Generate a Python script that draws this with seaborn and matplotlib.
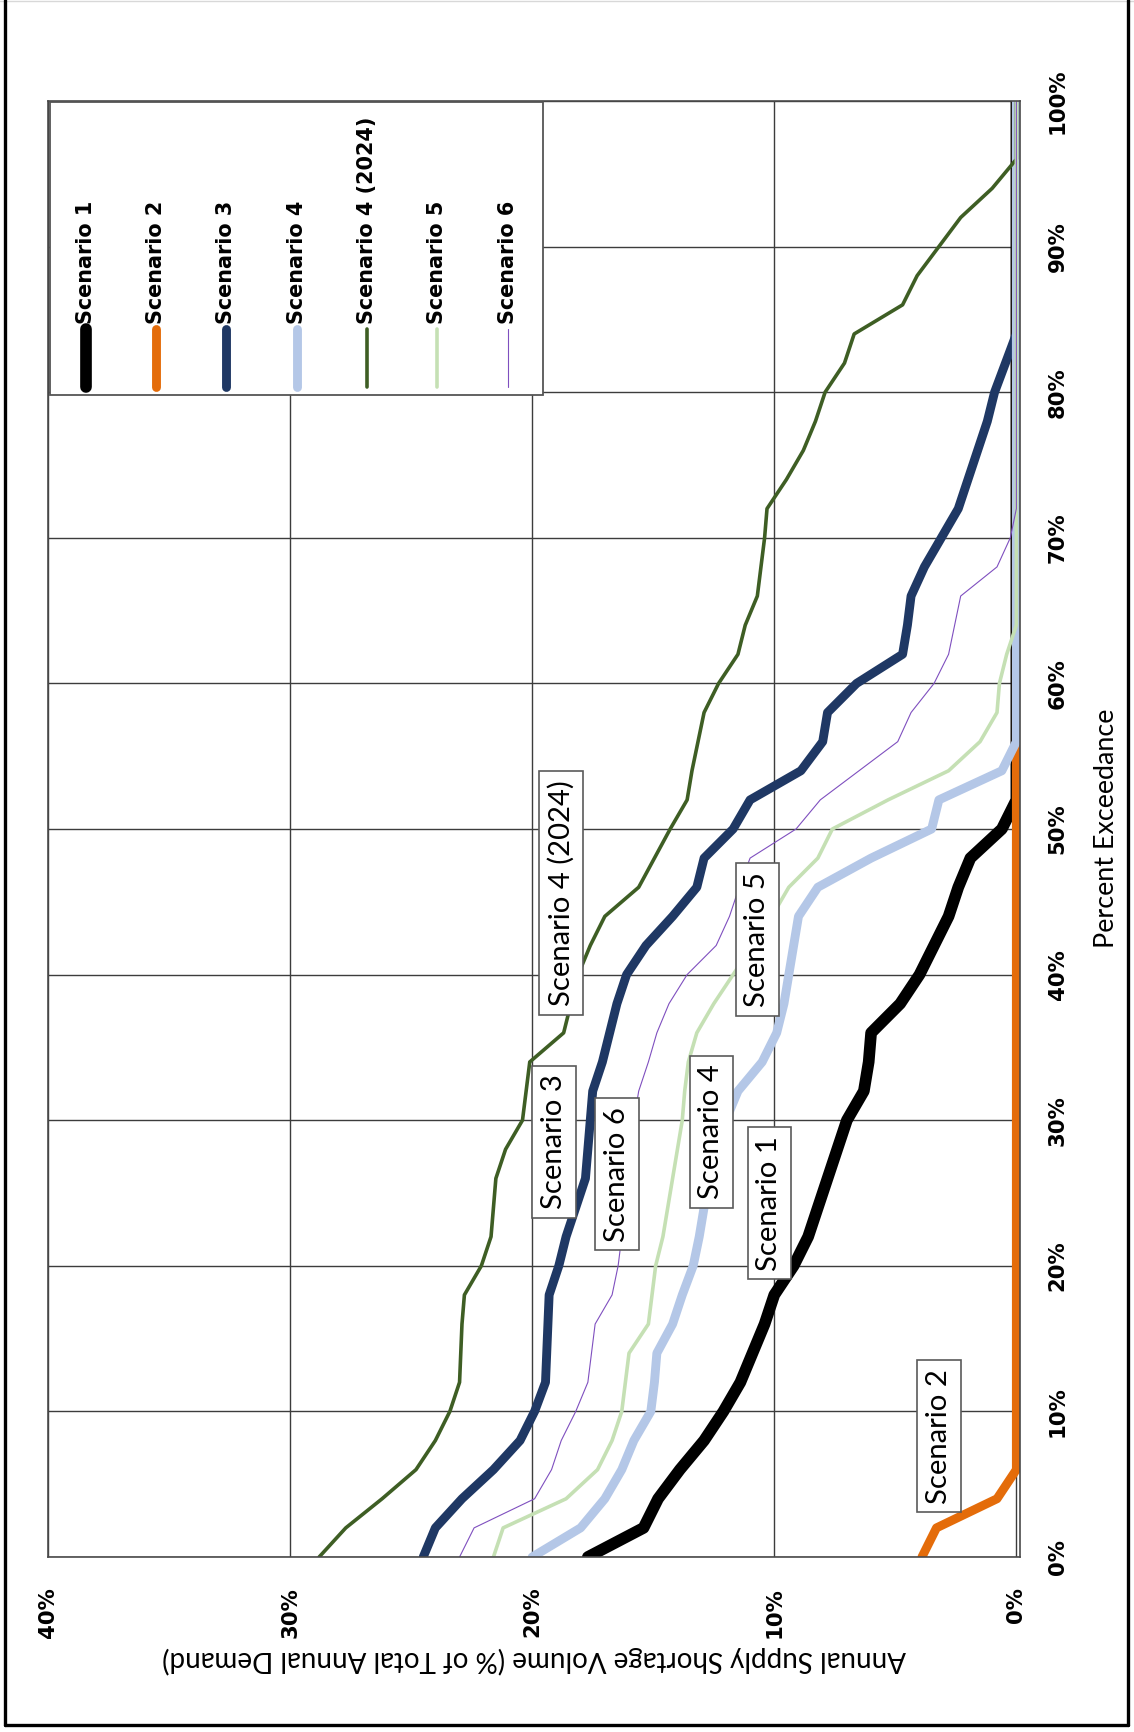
import matplotlib
matplotlib.use("Agg")
import matplotlib.pyplot as plt
import numpy as np
import pandas as pd
import seaborn as sns
from matplotlib.lines import Line2D
from matplotlib.patches import Rectangle

# Percent exceedance (every 2%)
exceedance = list(range(0, 101, 2))

# Annual supply shortage volume, % of total annual demand
scenario_1 = [17.7, 15.4, 14.8, 13.9, 12.9, 12.1, 11.4, 10.9, 10.4, 10.0,
              9.2, 8.6, 8.2, 7.8, 7.4, 7.0, 6.3, 6.1, 6.0, 4.8,
              4.0, 3.4, 2.8, 2.4, 1.9, 0.6] + [0.0] * 25
scenario_2 = [3.9, 3.3, 0.8] + [0.0] * 48
scenario_3 = [24.5, 24.0, 22.9, 21.6, 20.5, 19.9, 19.45, 19.4, 19.35, 19.3,
              18.9, 18.6, 18.2, 17.8, 17.7, 17.6, 17.5, 17.1, 16.8, 16.5,
              16.1, 15.3, 14.2, 13.2, 12.9, 11.7, 11.0, 8.9, 8.0, 7.8,
              6.6, 4.7, 4.5, 4.35, 3.8, 3.1, 2.4, 2.0, 1.6, 1.2,
              0.9, 0.45] + [0.0] * 9
scenario_4 = [20.0, 18.0, 17.0, 16.3, 15.8, 15.1, 14.95, 14.85, 14.2, 13.8,
              13.35, 13.1, 12.9, 12.6, 12.3, 12.0, 11.5, 10.5, 9.9, 9.6,
              9.4, 9.2, 9.0, 8.2, 6.0, 3.5, 3.2, 0.6] + [0.0] * 23
scenario_4_2024 = [28.8, 27.7, 26.2, 24.8, 24.0, 23.4, 23.0, 22.95, 22.9, 22.8,
                   22.1, 21.7, 21.6, 21.5, 21.1, 20.4, 20.25, 20.1, 18.7, 18.4,
                   18.1, 17.6, 17.0, 15.6, 14.95, 14.3, 13.6, 13.4, 13.15, 12.9,
                   12.3, 11.5, 11.2, 10.7, 10.55, 10.4, 10.3, 9.5, 8.8, 8.3,
                   7.9, 7.1, 6.7, 4.7, 4.1, 3.2, 2.3, 1.0, 0.0, 0.0, 0.0]
scenario_5 = [21.6, 21.2, 18.6, 17.3, 16.7, 16.3, 16.15, 16.0, 15.2, 15.05,
              14.9, 14.6, 14.4, 14.2, 14.0, 13.8, 13.7, 13.55, 13.2, 12.5,
              11.7, 10.9, 10.1, 9.4, 8.2, 7.6, 5.3, 2.8, 1.5, 0.8,
              0.7, 0.4] + [0.0] * 19
scenario_6 = [23.0, 22.4, 19.9, 19.2, 18.8, 18.2, 17.7, 17.55, 17.4, 16.7,
              16.45, 16.3, 16.2, 16.0, 15.9, 15.8, 15.6, 15.2, 14.85, 14.35,
              13.6, 12.4, 11.85, 11.45, 11.0, 9.1, 8.1, 6.5, 4.9, 4.35,
              3.4, 2.8, 2.55, 2.3, 0.8, 0.25] + [0.0] * 15

scenario_names = ["Scenario 1", "Scenario 2", "Scenario 3", "Scenario 4",
                  "Scenario 4 (2024)", "Scenario 5", "Scenario 6"]
scenario_values = [scenario_1, scenario_2, scenario_3, scenario_4,
                   scenario_4_2024, scenario_5, scenario_6]

shortage_ticks = [40, 30, 20, 10, 0]
exceedance_ticks = list(range(0, 101, 10))

x_title = "Annual Supply Shortage Volume (% of Total Annual Demand)"
y_title = "Percent Exceedance"

# In-plot callouts: (shortage %, exceedance %)
callouts = {
    "Scenario 4 (2024)": (18.8, 45.6),
    "Scenario 3": (19.1, 28.5),
    "Scenario 6": (16.5, 26.3),
    "Scenario 4": (12.6, 29.2),
    "Scenario 5": (10.7, 42.4),
    "Scenario 1": (10.2, 24.3),
    "Scenario 2": (3.2, 8.3),
}

colors = {
    "Scenario 1": "#000000",
    "Scenario 2": "#E46C0A",
    "Scenario 3": "#1F3864",
    "Scenario 4": "#B4C7E7",
    "Scenario 4 (2024)": "#3E5E24",
    "Scenario 5": "#C5E0B4",
    "Scenario 6": "#7F4FBF",
}
widths = {
    "Scenario 1": 8.4,
    "Scenario 2": 6.4,
    "Scenario 3": 6.4,
    "Scenario 4": 6.4,
    "Scenario 4 (2024)": 2.6,
    "Scenario 5": 2.6,
    "Scenario 6": 0.8,
}

frames = []
for name, vals in zip(scenario_names, scenario_values):
    frames.append(pd.DataFrame({"scenario": name,
                                "exceedance": exceedance,
                                "shortage": vals}))
df = pd.concat(frames, ignore_index=True)

sns.set_theme(style="white")
plt.rcParams["font.family"] = ["DejaVu Sans"]

W, H = 1134, 1732
fig = plt.figure(figsize=(W / 100, H / 100), dpi=100)
fig.patch.set_facecolor("white")


def fx(px):
    return px / W


def fy(py):
    return 1 - py / H


L, R, T, B = 48, 1020, 101, 1557
ax = fig.add_axes([fx(L), fy(B), fx(R) - fx(L), fy(T) - fy(B)])

for name in scenario_names:
    sub = df[df["scenario"] == name]
    sns.lineplot(data=sub, x="shortage", y="exceedance", sort=False,
                 estimator=None, orient="y", color=colors[name],
                 linewidth=widths[name], ax=ax, legend=False)
for line in ax.lines:
    line.set_solid_joinstyle("round")

ax.set_xlim(40, -0.15)
ax.set_ylim(0, 100)

grid_kw = dict(color="#3c3c3c", linewidth=1.0)
ax.set_xticks(shortage_ticks)
ax.set_yticks(exceedance_ticks)
ax.grid(True, axis="both", **grid_kw)
ax.set_axisbelow(True)
for sp in ax.spines.values():
    sp.set_color("#4a4a4a")
    sp.set_linewidth(1.2)

tick_font = dict(fontsize=15.3, fontweight="bold", family="DejaVu Sans")
ax.set_xticklabels([f"{t}%" for t in shortage_ticks], rotation=90,
                   ha="center", va="top", **tick_font)
ax.yaxis.tick_right()
ax.set_yticklabels([f"{t}%" for t in exceedance_ticks], rotation=90,
                   ha="left", va="center", **tick_font)
ax.tick_params(axis="x", length=0, pad=21.5, colors="black")
ax.tick_params(axis="y", length=0, pad=20, colors="black",
               labelright=True, labelleft=False)
ax.set_xlabel("")
ax.set_ylabel("")

renderer = fig.canvas.get_renderer()


def fit(txt, target, vertical):
    bb = txt.get_window_extent(renderer)
    cur = bb.height if vertical else bb.width
    txt.set_fontsize(txt.get_fontsize() * target / cur)


# Callout boxes
box_style = dict(boxstyle="square,pad=0.3", facecolor="white",
                 edgecolor="#5a5a5a", linewidth=1.2)
callout_texts = {}
for name, (sx, ex) in callouts.items():
    callout_texts[name] = ax.text(sx, ex, name, rotation=90, ha="center",
                                  va="center", family="Lato", fontsize=22,
                                  color="black", bbox=box_style, zorder=6)
fit(callout_texts["Scenario 4 (2024)"], 225, True)
size_callout = callout_texts["Scenario 4 (2024)"].get_fontsize()
for t in callout_texts.values():
    t.set_fontsize(size_callout)

# Axis titles
t_y = fig.text(fx(1106), fy(828), y_title, rotation=90, ha="center",
               va="center", family="Lato", fontsize=18, color="black")
fit(t_y, 239, True)
t_x = fig.text(fx(534), fy(1660), x_title, rotation=180, ha="center",
               va="center", family="Lato", fontsize=18, color="black")
fit(t_x, 741, False)

# Legend panel
leg_rect = Rectangle((fx(50), fy(395)), fx(543) - fx(50), fy(102) - fy(395),
                     transform=fig.transFigure, facecolor="white",
                     edgecolor="#555555", linewidth=1.3, zorder=10)
fig.add_artist(leg_rect)
leg_cols = [86, 156, 226, 297, 367, 437, 508]
leg_texts = []
for name, cx in zip(scenario_names, leg_cols):
    ln = Line2D([fx(cx), fx(cx)], [fy(387), fy(329)],
                transform=fig.transFigure, color=colors[name],
                linewidth=widths[name], solid_capstyle="round", zorder=11)
    fig.add_artist(ln)
    leg_texts.append(fig.text(fx(cx), fy(324), name, rotation=90,
                              ha="center", va="bottom", fontsize=15,
                              fontweight="bold", family="DejaVu Sans",
                              color="black", zorder=12))
fit(leg_texts[4], 208, True)
for t in leg_texts:
    t.set_fontsize(leg_texts[4].get_fontsize())

# Outer frame
frame_kw = dict(transform=fig.transFigure, color="black", linewidth=2.4,
                zorder=20)
fig.add_artist(Line2D([fx(5), fx(5)], [fy(0), fy(1725)], **frame_kw))
fig.add_artist(Line2D([fx(1128), fx(1128)], [fy(0), fy(1725)], **frame_kw))
fig.add_artist(Line2D([fx(5), fx(1128)], [fy(1725), fy(1725)], **frame_kw))
fig.add_artist(Line2D([fx(0), fx(1134)], [fy(1), fy(1)],
                      transform=fig.transFigure, color="#d8d8d8",
                      linewidth=1.0, zorder=19))

fig.savefig("out.png", dpi=100, facecolor="white")
